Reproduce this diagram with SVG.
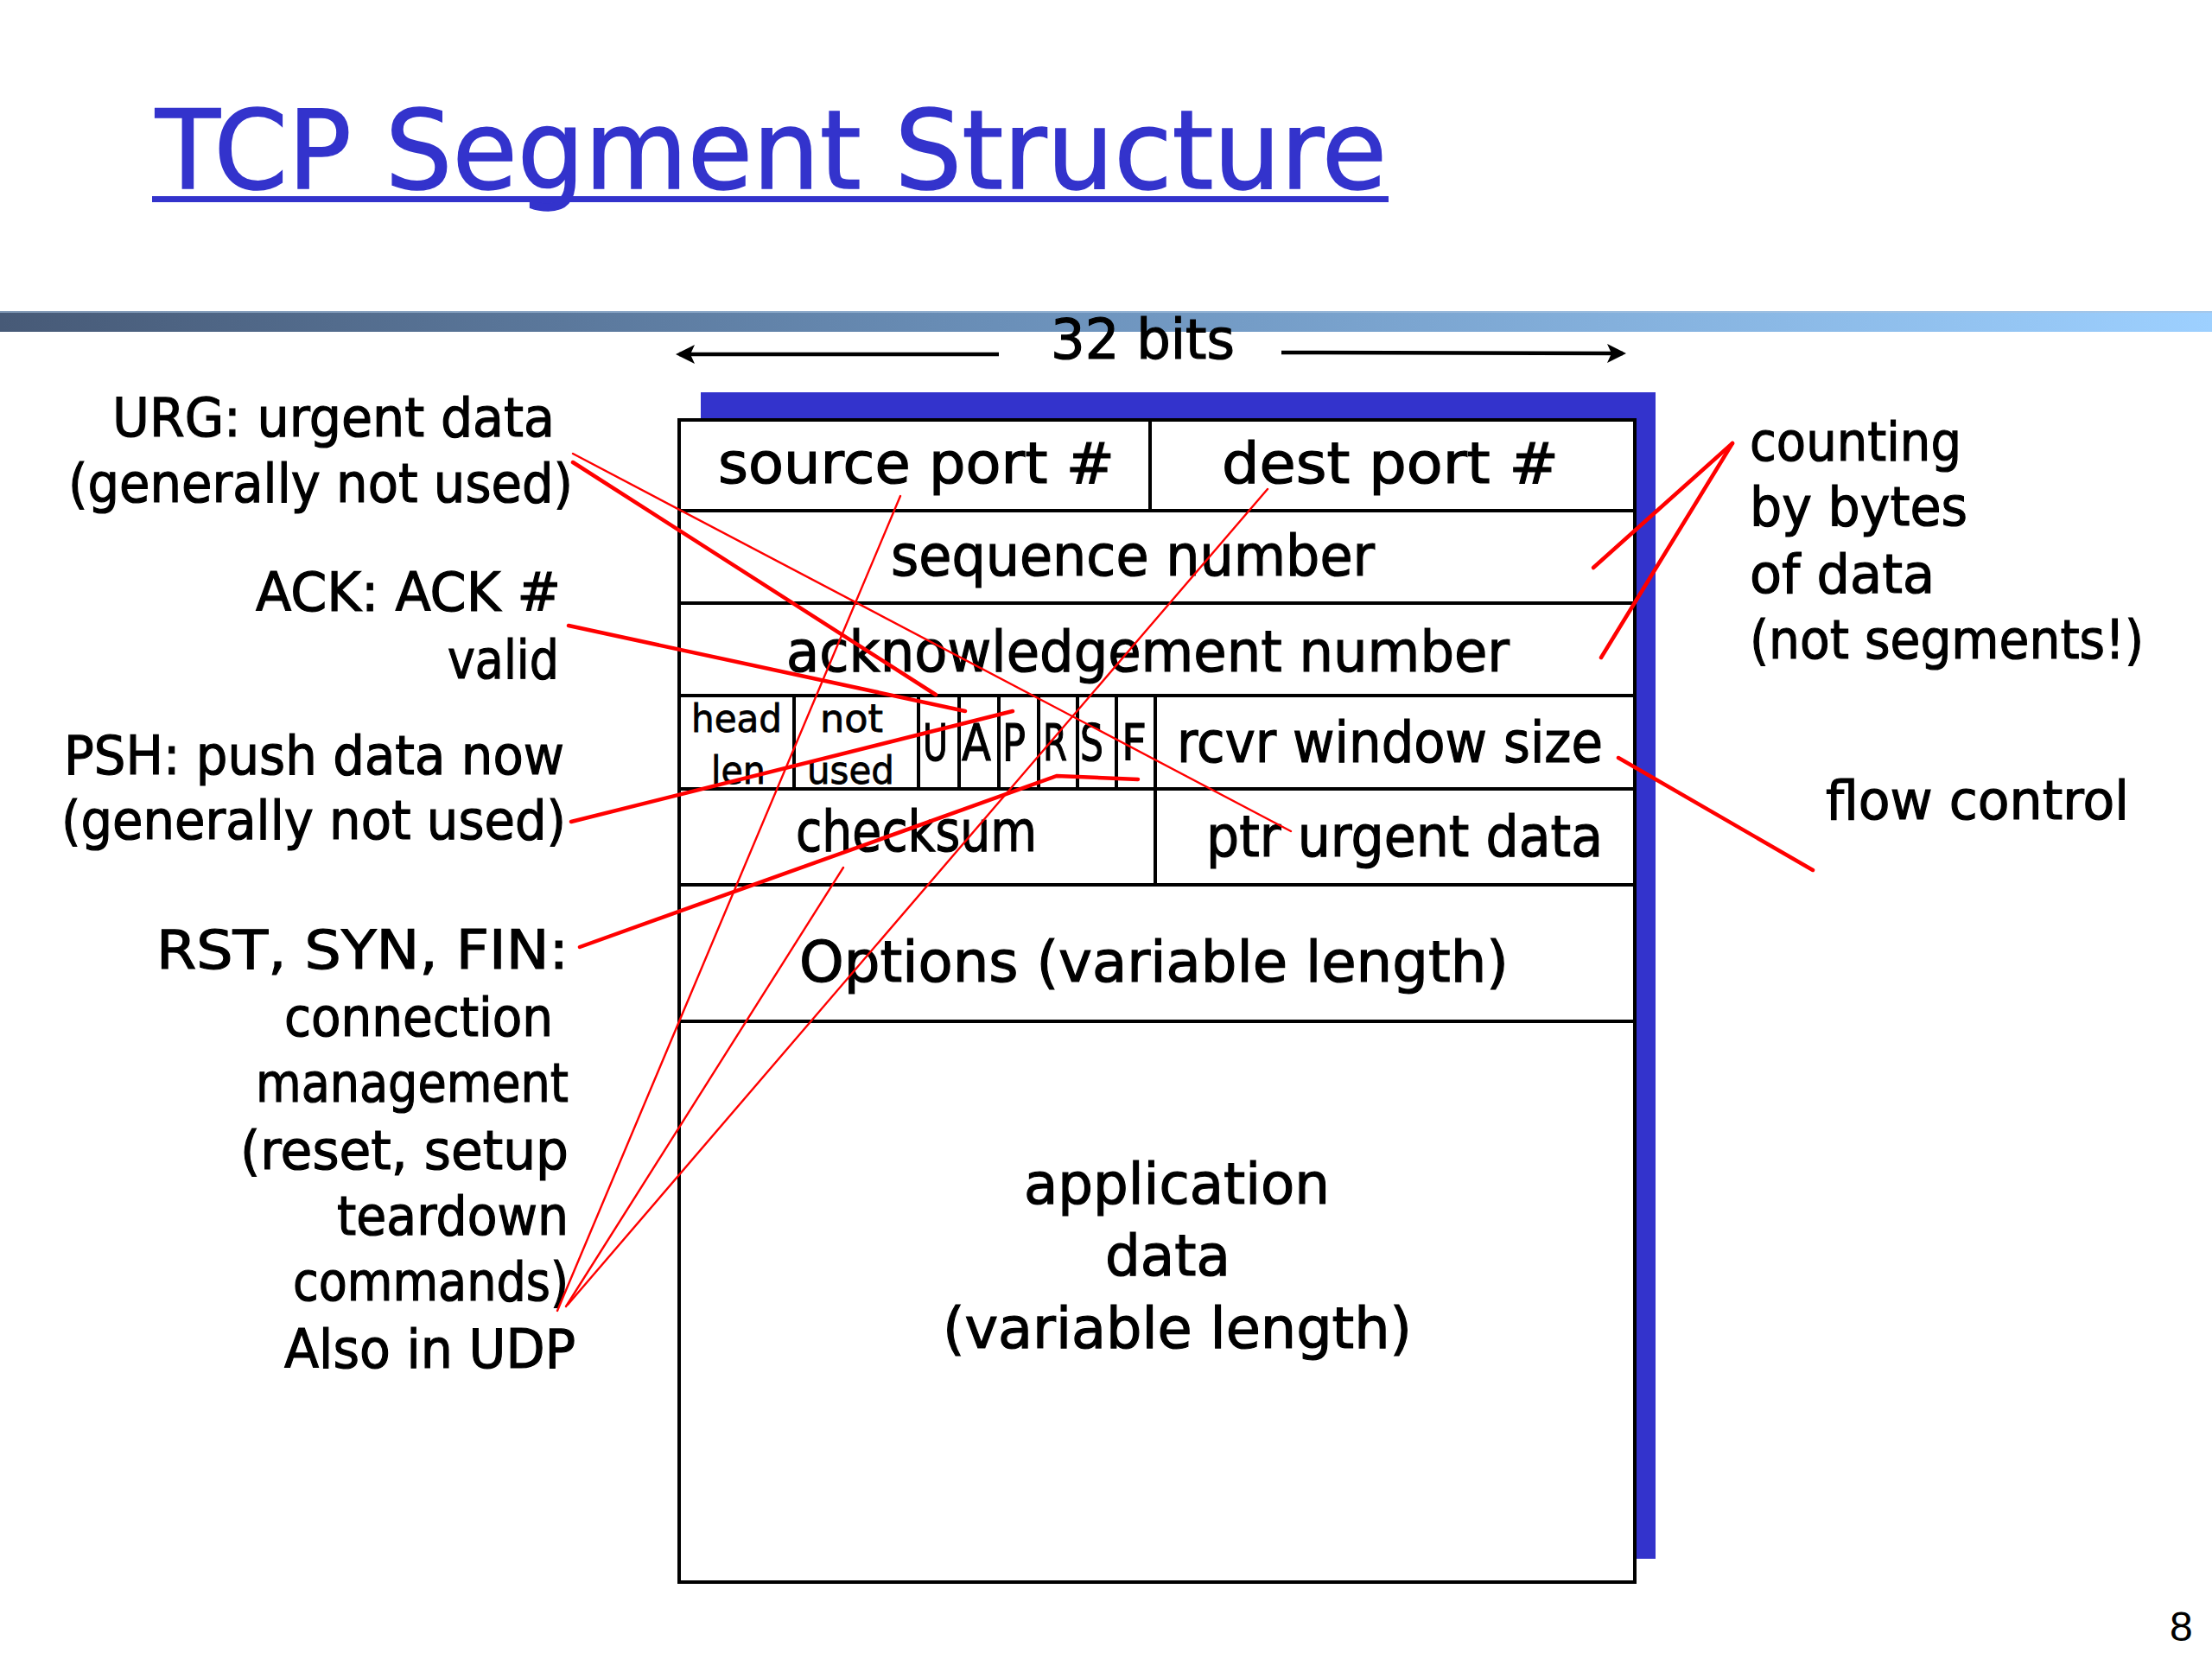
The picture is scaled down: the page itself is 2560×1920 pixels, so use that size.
<svg xmlns="http://www.w3.org/2000/svg" width="2560" height="1920" viewBox="0 0 2560 1920">
<defs>
<linearGradient id="bar" x1="0" y1="0" x2="1" y2="0">
<stop offset="0" stop-color="#475a77"/>
<stop offset="0.45" stop-color="#6a8fb8"/>
<stop offset="1" stop-color="#9dd0ff"/>
</linearGradient>
<marker id="ah" markerUnits="userSpaceOnUse" markerWidth="24" markerHeight="24" refX="18" refY="11" orient="auto">
<path d="M0,0 L22,11 L0,22 L5,11 z" fill="#000"/>
</marker>
<style>
.t{font-family:"DejaVu Sans","Liberation Sans",sans-serif;fill:#000;stroke:#000;stroke-width:1.2}
.lbl{font-size:62px}
.box{font-size:66px}
.sm{font-size:44px;stroke-width:0.8}
.flag{font-size:59px}
.thick{stroke:#ff0000;stroke-width:4.5;fill:none;stroke-linecap:round}
.thin{stroke:#ff0000;stroke-width:2.4;fill:none;stroke-linecap:round}
</style>
</defs>
<rect x="0" y="0" width="2560" height="1920" fill="#fff"/>

<g id="title">
<text x="180" y="218" font-family="DejaVu Sans, Liberation Sans, sans-serif" font-size="126" fill="#3333cc" stroke="#3333cc" stroke-width="1.5" textLength="1425" lengthAdjust="spacingAndGlyphs">TCP Segment Structure</text>
<rect x="176" y="227" width="1431" height="7" fill="#3333cc"/>
</g>

<g id="banner">
<rect x="0" y="360" width="2560" height="24" fill="url(#bar)"/>
<line x1="0" y1="361" x2="2560" y2="361" stroke="#a9c4e0" stroke-width="2" opacity="0.6"/>
</g>

<g id="width-32bits">
<line x1="1156" y1="410" x2="786" y2="410" stroke="#000" stroke-width="4.5" marker-end="url(#ah)"/>
<line x1="1483" y1="408" x2="1878" y2="409" stroke="#000" stroke-width="4.5" marker-end="url(#ah)"/>
<text class="t" x="1216" y="415" font-size="64" textLength="213" lengthAdjust="spacingAndGlyphs">32 bits</text>
</g>

<g id="segment">
<rect x="811" y="454" width="1105" height="1350" fill="#3333cc"/>
<rect x="786" y="486" width="1106" height="1345" fill="#fff" stroke="#000" stroke-width="4"/>
<g id="row-lines" stroke="#000" stroke-width="4">
<line x1="786" y1="591" x2="1892" y2="591"/>
<line x1="786" y1="698" x2="1892" y2="698"/>
<line x1="786" y1="805" x2="1892" y2="805"/>
<line x1="786" y1="913" x2="1892" y2="913"/>
<line x1="786" y1="1024" x2="1892" y2="1024"/>
<line x1="786" y1="1182" x2="1892" y2="1182"/>
<line x1="1331" y1="486" x2="1331" y2="591"/>
<line x1="919" y1="805" x2="919" y2="913"/>
<line x1="1063" y1="805" x2="1063" y2="913"/>
<line x1="1110" y1="805" x2="1110" y2="913"/>
<line x1="1156" y1="805" x2="1156" y2="913"/>
<line x1="1202" y1="805" x2="1202" y2="913"/>
<line x1="1247" y1="805" x2="1247" y2="913"/>
<line x1="1292" y1="805" x2="1292" y2="913"/>
<line x1="1337" y1="805" x2="1337" y2="1024"/>
</g>
</g>

<g id="source-port"><text class="t box" x="831" y="559" textLength="459" lengthAdjust="spacingAndGlyphs">source port #</text></g>
<g id="dest-port"><text class="t box" x="1414" y="559" textLength="390" lengthAdjust="spacingAndGlyphs">dest port #</text></g>
<g id="sequence-number"><text class="t box" x="1031" y="666" textLength="560" lengthAdjust="spacingAndGlyphs">sequence number</text></g>
<g id="ack-number"><text class="t box" x="910" y="777" textLength="837" lengthAdjust="spacingAndGlyphs">acknowledgement number</text></g>
<g id="head-len">
<text class="t sm" x="800" y="847" textLength="105" lengthAdjust="spacingAndGlyphs">head</text>
<text class="t sm" x="823" y="907" textLength="63" lengthAdjust="spacingAndGlyphs">len</text>
</g>
<g id="not-used">
<text class="t sm" x="949" y="847" textLength="73" lengthAdjust="spacingAndGlyphs">not</text>
<text class="t sm" x="934" y="907" textLength="101" lengthAdjust="spacingAndGlyphs">used</text>
</g>
<g id="flag-U"><text class="t flag" x="1068" y="880" textLength="29" lengthAdjust="spacingAndGlyphs">U</text></g>
<g id="flag-A"><text class="t flag" x="1113" y="880" textLength="34" lengthAdjust="spacingAndGlyphs">A</text></g>
<g id="flag-P"><text class="t flag" x="1160" y="880" textLength="27" lengthAdjust="spacingAndGlyphs">P</text></g>
<g id="flag-R"><text class="t flag" x="1207" y="880" textLength="28" lengthAdjust="spacingAndGlyphs">R</text></g>
<g id="flag-S"><text class="t flag" x="1250" y="880" textLength="27" lengthAdjust="spacingAndGlyphs">S</text></g>
<g id="flag-F"><text class="t flag" x="1298" y="880" textLength="29" lengthAdjust="spacingAndGlyphs">F</text></g>
<g id="rcvr-window"><text class="t box" x="1362" y="882" textLength="493" lengthAdjust="spacingAndGlyphs">rcvr window size</text></g>
<g id="checksum"><text class="t box" x="921" y="985" textLength="279" lengthAdjust="spacingAndGlyphs">checksum</text></g>
<g id="urgent-ptr"><text class="t box" x="1396" y="991" textLength="459" lengthAdjust="spacingAndGlyphs">ptr urgent data</text></g>
<g id="options"><text class="t box" x="925" y="1136" textLength="821" lengthAdjust="spacingAndGlyphs">Options (variable length)</text></g>
<g id="app-data">
<text class="t box" x="1185" y="1393" textLength="354" lengthAdjust="spacingAndGlyphs">application</text>
<text class="t box" x="1279" y="1476" textLength="145" lengthAdjust="spacingAndGlyphs">data</text>
<text class="t box" x="1091" y="1560" textLength="543" lengthAdjust="spacingAndGlyphs">(variable length)</text>
</g>

<g id="note-urg">
<text class="t lbl" x="130" y="505" textLength="512" lengthAdjust="spacingAndGlyphs">URG: urgent data</text>
<text class="t lbl" x="79" y="581" textLength="584" lengthAdjust="spacingAndGlyphs">(generally not used)</text>
</g>
<g id="note-ack">
<text class="t lbl" x="296" y="707" textLength="353" lengthAdjust="spacingAndGlyphs">ACK: ACK #</text>
<text class="t lbl" x="518" y="785" textLength="129" lengthAdjust="spacingAndGlyphs">valid</text>
</g>
<g id="note-psh">
<text class="t lbl" x="74" y="896" textLength="579" lengthAdjust="spacingAndGlyphs">PSH: push data now</text>
<text class="t lbl" x="71" y="971" textLength="584" lengthAdjust="spacingAndGlyphs">(generally not used)</text>
</g>
<g id="note-rst">
<text class="t lbl" x="181" y="1121" textLength="477" lengthAdjust="spacingAndGlyphs">RST, SYN, FIN:</text>
<text class="t lbl" x="329" y="1199" textLength="311" lengthAdjust="spacingAndGlyphs">connection</text>
<text class="t lbl" x="296" y="1275" textLength="362" lengthAdjust="spacingAndGlyphs">management</text>
<text class="t lbl" x="278" y="1353" textLength="380" lengthAdjust="spacingAndGlyphs">(reset, setup</text>
<text class="t lbl" x="390" y="1429" textLength="268" lengthAdjust="spacingAndGlyphs">teardown</text>
<text class="t lbl" x="339" y="1505" textLength="319" lengthAdjust="spacingAndGlyphs">commands)</text>
</g>
<g id="note-udp">
<text class="t lbl" x="329" y="1583" textLength="337" lengthAdjust="spacingAndGlyphs">Also in UDP</text>
</g>
<g id="note-counting">
<text class="t lbl" x="2025" y="533" textLength="245" lengthAdjust="spacingAndGlyphs">counting</text>
<text class="t lbl" x="2025" y="608" textLength="252" lengthAdjust="spacingAndGlyphs">by bytes</text>
<text class="t lbl" x="2025" y="686" textLength="214" lengthAdjust="spacingAndGlyphs">of data</text>
<text class="t lbl" x="2025" y="762" textLength="456" lengthAdjust="spacingAndGlyphs">(not segments!)</text>
</g>
<g id="note-flow">
<text class="t lbl" x="2113" y="948" textLength="351" lengthAdjust="spacingAndGlyphs">flow control</text>
</g>

<g id="connectors">
<line class="thin" x1="663" y1="525" x2="1494" y2="962"/>
<line class="thick" x1="663" y1="535" x2="1083" y2="804"/>
<line class="thick" x1="658" y1="724" x2="1117" y2="823"/>
<line class="thick" x1="661" y1="951" x2="1172" y2="823"/>
<polyline class="thick" points="671,1096 1223,898 1317,902"/>
<line class="thin" x1="645" y1="1517" x2="1042" y2="574"/>
<line class="thin" x1="657" y1="1510" x2="1467" y2="566"/>
<line class="thin" x1="655" y1="1512" x2="976" y2="1004"/>
<line class="thick" x1="2005" y1="513" x2="1844" y2="657"/>
<line class="thick" x1="2005" y1="513" x2="1853" y2="761"/>
<line class="thick" x1="1873" y1="877" x2="2098" y2="1007"/>
</g>

<g id="page-number">
<text x="2511" y="1899" font-family="Liberation Sans, Arial, sans-serif" font-size="48" fill="#000">8</text>
</g>
</svg>
